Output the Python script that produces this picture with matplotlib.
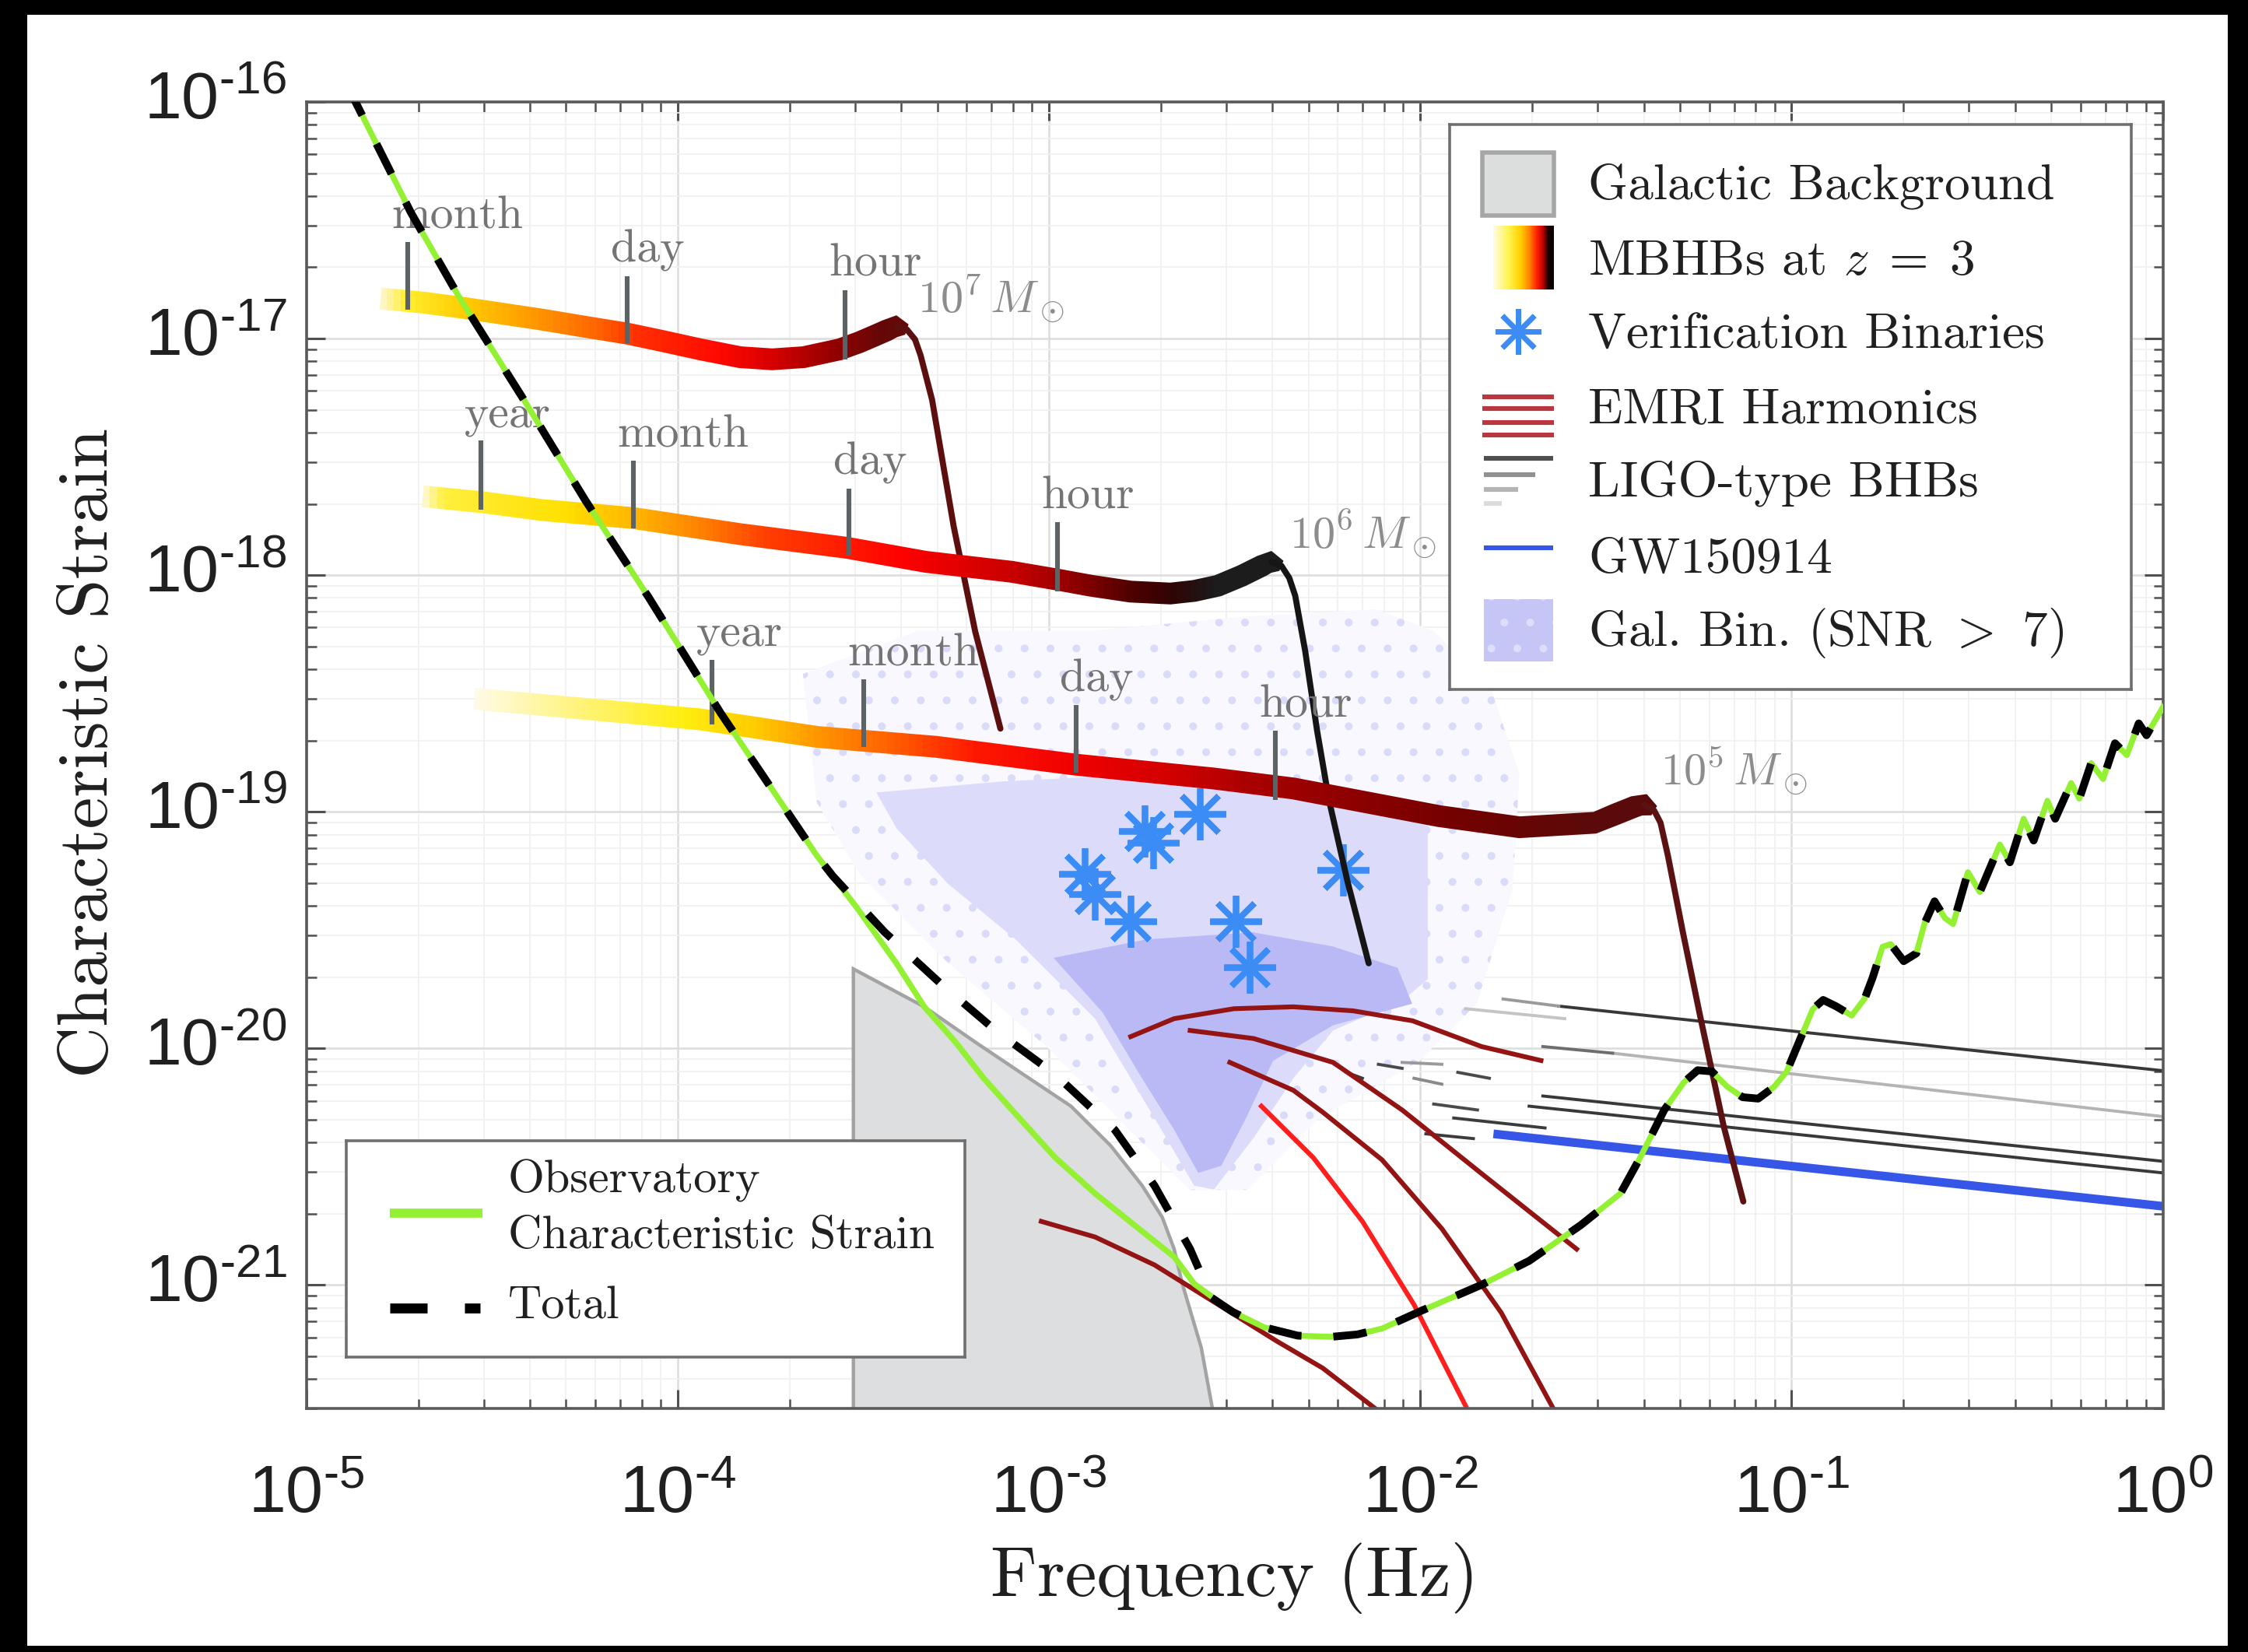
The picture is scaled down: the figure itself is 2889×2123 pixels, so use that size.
"""Characteristic strain vs frequency: observatory sensitivity with source classes."""
import numpy as np
import matplotlib

matplotlib.use("Agg")
import matplotlib.pyplot as plt
import matplotlib.transforms as mtransforms
from matplotlib.colors import LinearSegmentedColormap
from matplotlib.patches import Polygon, Rectangle
from matplotlib.ticker import LogLocator, NullFormatter

# ---------------------------------------------------------------- data
# everything is log10(frequency / Hz) and log10(characteristic strain)
sens_logf = np.array([-4.89, -4.869, -4.719, -4.591, -4.409, -4.249, -4.078, -3.885, -3.625, -3.518,
                      -3.411, -3.336, -3.251, -3.176, -3.090, -2.983, -2.876, -2.770, -2.663, -2.609,
                      -2.505, -2.42, -2.33, -2.24, -2.17, -2.103, -1.996, -1.835, -1.707, -1.568,
                      -1.461, -1.408, -1.343, -1.290, -1.253, -1.215, -1.173, -1.132, -1.090, -1.047,
                      -1.013, -0.978, -0.943, -0.915, -0.880, -0.838, -0.803, -0.782, -0.755, -0.733,
                      -0.698, -0.664, -0.642, -0.615, -0.587, -0.565, -0.525, -0.493, -0.439, -0.412,
                      -0.375, -0.348, -0.311, -0.290, -0.247, -0.225, -0.193, -0.161, -0.129, -0.097,
                      -0.065, -0.044, 0.0])
sens_logh = np.array([-15.93, -15.997, -16.467, -16.819, -17.273, -17.684, -18.095, -18.582, -19.187, -19.405,
                      -19.641, -19.825, -19.976, -20.127, -20.278, -20.463, -20.614, -20.748, -20.882, -20.996,
                      -21.115, -21.18, -21.215, -21.22, -21.21, -21.185, -21.109, -21.0, -20.899, -20.748,
                      -20.614, -20.463, -20.261, -20.144, -20.093, -20.098, -20.163, -20.207, -20.213, -20.163,
                      -20.098, -19.966, -19.835, -19.796, -19.823, -19.862, -19.790, -19.703, -19.571, -19.560,
                      -19.632, -19.599, -19.473, -19.379, -19.450, -19.475, -19.256, -19.340, -19.139, -19.214,
                      -19.030, -19.122, -18.954, -19.030, -18.879, -18.945, -18.795, -18.862, -18.711, -18.761,
                      -18.627, -18.677, -18.559])

# where the total lifts above the instrument curve (galactic confusion)
tot_mid_logf = np.array([-3.582, -3.443, -3.294, -3.144, -2.984, -2.823, -2.716, -2.620, -2.563])
tot_mid_logh = np.array([-19.273, -19.509, -19.724, -19.925, -20.110, -20.345, -20.581, -20.849, -21.054])

galbg_logf = np.array([-3.527, -3.527, -3.336, -3.197, -3.069, -2.941, -2.834, -2.749, -2.695, -2.663,
                       -2.641, -2.590, -2.551])
galbg_logh = np.array([-21.6, -19.665, -19.825, -19.976, -20.111, -20.245, -20.412, -20.581, -20.715, -20.849,
                       -20.996, -21.266, -21.6])

# massive black hole binaries at z = 3 (10^7, 10^6, 10^5 solar masses)
trk1_logf = np.array([-4.800, -4.687, -4.580, -4.473, -4.366, -4.259, -4.137, -4.046, -3.939, -3.832,
                      -3.746, -3.661, -3.564, -3.511, -3.468, -3.436, -3.410, -3.383, -3.361, -3.346,
                      -3.315, -3.257, -3.199, -3.131])
trk1_logh = np.array([-16.831, -16.848, -16.870, -16.895, -16.920, -16.948, -16.979, -17.009, -17.046, -17.079,
                      -17.088, -17.079, -17.046, -17.016, -16.987, -16.965, -16.948, -16.962, -17.004, -17.071,
                      -17.259, -17.793, -18.238, -18.649])
trk2_logf = np.array([-4.687, -4.527, -4.366, -4.120, -3.832, -3.543, -3.332, -3.101, -2.978, -2.887,
                      -2.780, -2.673, -2.609, -2.545, -2.481, -2.427, -2.401, -2.374, -2.353, -2.337,
                      -2.310, -2.278, -2.246, -2.196, -2.139])
trk2_logh = np.array([-17.667, -17.692, -17.725, -17.759, -17.827, -17.885, -17.944, -17.986, -18.019, -18.045,
                      -18.070, -18.078, -18.067, -18.045, -18.003, -17.961, -17.944, -17.961, -18.012, -18.087,
                      -18.322, -18.658, -18.951, -19.296, -19.641])
trk3_logf = np.array([-4.548, -3.939, -3.625, -3.304, -2.930, -2.556, -2.342, -1.949, -1.733, -1.530,
                      -1.477, -1.423, -1.396, -1.370, -1.353, -1.333, -1.293, -1.247, -1.183, -1.130])
trk3_logh = np.array([-18.523, -18.610, -18.684, -18.726, -18.801, -18.860, -18.902, -19.019, -19.066, -19.047,
                      -19.013, -18.979, -18.971, -18.996, -19.047, -19.187, -19.508, -19.859, -20.329, -20.648])
trk_peak = [16, 16, 12]

# time-to-merger markers on each track
t1_tick_logf = np.array([-4.728, -4.137, -3.549])
t1_tick_lo = np.array([-16.878, -17.021, -17.088])
t1_tick_hi = np.array([-16.593, -16.736, -16.795])
t1_tick_lab = ["month", "day", "hour"]
t2_tick_logf = np.array([-4.530, -4.119, -3.538, -2.978])
t2_tick_lo = np.array([-17.725, -17.801, -17.919, -18.070])
t2_tick_hi = np.array([-17.432, -17.516, -17.634, -17.776])
t2_tick_lab = ["year", "month", "day", "hour"]
t3_tick_logf = np.array([-3.907, -3.499, -2.928, -2.390])
t3_tick_lo = np.array([-18.630, -18.726, -18.835, -18.952])
t3_tick_hi = np.array([-18.357, -18.441, -18.550, -18.659])
t3_tick_lab = ["year", "month", "day", "hour"]

mass_lab = [r"$10^7\,M_\odot$", r"$10^6\,M_\odot$", r"$10^5\,M_\odot$"]
mass_logf = np.array([-3.354, -2.353, -1.353])
mass_logh = np.array([-16.890, -17.885, -18.887])

# verification binaries
vb_logf = np.array([-2.593, -2.742, -2.719, -2.903, -2.876, -2.780, -2.497, -2.459, -2.208])
vb_logh = np.array([-19.011, -19.083, -19.133, -19.263, -19.347, -19.464, -19.464, -19.657, -19.246])

# resolved galactic binaries (SNR > 7): outline of sparse, medium and dense parts of the cloud
cloud_outer_logf = np.array([-3.663, -3.354, -2.892, -2.467, -2.119, -1.965, -1.810, -1.733, -1.752, -1.848,
                             -2.003, -2.273, -2.467, -2.621, -2.776, -3.007, -3.278, -3.509, -3.625])
cloud_outer_logh = np.array([-18.418, -18.236, -18.236, -18.175, -18.145, -18.236, -18.478, -18.842, -19.327,
                             -19.812, -20.054, -20.296, -20.599, -20.599, -20.357, -19.993, -19.630, -19.266,
                             -18.963])
cloud_mid_logf = np.array([-3.465, -3.123, -2.737, -2.351, -1.980, -1.980, -2.043, -2.235, -2.342, -2.449,
                           -2.556, -2.609, -2.716, -2.876, -3.090, -3.272, -3.411])
cloud_mid_logh = np.array([-18.919, -18.872, -18.842, -18.872, -19.024, -19.708, -19.792, -19.925, -20.127,
                           -20.379, -20.597, -20.581, -20.295, -19.875, -19.540, -19.305, -19.070])
cloud_core_logf = np.array([-2.988, -2.737, -2.451, -2.235, -2.061, -2.022, -2.235, -2.397, -2.470, -2.536,
                            -2.598, -2.663, -2.752, -2.856])
cloud_core_logh = np.array([-19.618, -19.540, -19.510, -19.570, -19.660, -19.812, -19.903, -20.054, -20.297,
                            -20.497, -20.527, -20.345, -20.121, -19.848])

# EMRI harmonics
emri_a_logf = np.array([-2.780, -2.663, -2.502, -2.342, -2.181, -2.021, -1.835, -1.675])
emri_a_logh = np.array([-19.951, -19.875, -19.833, -19.825, -19.842, -19.884, -19.993, -20.052])
emri_b_logf = np.array([-2.620, -2.449, -2.235, -2.049, -1.835, -1.579])
emri_b_logh = np.array([-19.925, -19.959, -20.060, -20.261, -20.530, -20.849])
emri_c_logf = np.array([-2.513, -2.342, -2.263, -2.103, -1.942, -1.782, -1.643])
emri_c_logh = np.array([-20.060, -20.178, -20.270, -20.472, -20.763, -21.118, -21.520])
emri_d_logf = np.array([-2.428, -2.288, -2.156, -2.017, -1.878])
emri_d_logh = np.array([-20.245, -20.463, -20.732, -21.084, -21.512])
emri_e_logf = np.array([-3.021, -2.876, -2.716, -2.544, -2.389, -2.263, -2.124])
emri_e_logh = np.array([-20.732, -20.798, -20.916, -21.084, -21.236, -21.352, -21.520])

# LIGO-type stellar-mass binaries (start/end of each segment)
ligo_f0 = np.array([-1.627, -1.670, -1.707, -1.482, -1.777, -1.670, -1.878, -1.964, -1.910, -1.985,
                    -1.899, -2.113, -2.017, -2.199, -2.049])
ligo_h0 = np.array([-19.822, -20.202, -20.245, -20.021, -19.792, -19.993, -19.833, -20.236, -20.295, -20.362,
                    -20.102, -20.068, -20.127, -20.102, -20.060])
ligo_f1 = np.array([0.0, 0.0, 0.0, 0.0, -1.627, -1.482, -1.611, -1.846, -1.664, -1.857,
                    -1.814, -2.049, -1.942, -2.156, -1.942])
ligo_h1 = np.array([-20.095, -20.478, -20.527, -20.289, -19.822, -20.021, -19.875, -20.261, -20.337, -20.382,
                    -20.127, -20.085, -20.152, -20.127, -20.068])
gw150914_logf = np.array([-1.803, 0.0])
gw150914_logh = np.array([-20.362, -20.668])

x_tick_exp = [-5, -4, -3, -2, -1, 0]
y_tick_exp = [-16, -17, -18, -19, -20, -21]

legend_labels = ["Galactic Background", r"MBHBs at $z\;=\;3$", "Verification Binaries", "EMRI Harmonics",
                 "LIGO-type BHBs", "GW150914", r"Gal. Bin. (SNR $>$ 7)"]

# ---------------------------------------------------------------- style
DPI = 200
GREEN = "#94f032"
DARK_RED = "#941414"
BLUE_STAR = "#3c8cf5"
TXT = "#202020"
LIGO_SHADES = ["#383838", "#383838", "#383838", "#b4b4b4", "#9a9a9a", "#6e6e6e", "#c4c4c4", "#4a4a4a",
               "#3c3c3c", "#3c3c3c", "#4a4a4a", "#4a4a4a", "#8a8a8a", "#3c3c3c", "#9a9a9a"]
TRK_STOPS = [
    ([-4.80, -4.74, -4.58, -4.40, -4.21, -4.12, -3.90, -3.75, -3.60, -3.45],
     ["#fff6c0", "#ffee30", "#ffcc00", "#ff9a00", "#ff6000", "#ff3000", "#ff0a00", "#d80000", "#9a0000", "#640808"]),
    ([-4.69, -4.64, -4.31, -4.10, -3.94, -3.77, -3.40, -3.10, -2.98, -2.78, -2.67, -2.55],
     ["#fff8d0", "#fff040", "#ffe000", "#ffb000", "#ff8000", "#ff4000", "#ff0000", "#c80000", "#a00000",
      "#500000", "#300404", "#1c1c1c"]),
    ([-4.55, -4.37, -3.99, -3.80, -3.625, -3.41, -3.20, -2.93, -2.66, -2.45, -1.95, -1.53],
     ["#fffbe6", "#fff6a0", "#ffee10", "#ffcc00", "#ff9600", "#ff5a00", "#ff1800", "#f00000", "#d00000",
      "#a80000", "#780000", "#5a0a0a"]),
]
RING_COLORS = ["#5c0f0f", "#151515", "#5a1212"]

plt.rcParams.update({
    "font.family": "cmr10",
    "axes.formatter.use_mathtext": True,
    "mathtext.fontset": "cm",
    "mathtext.rm": "Liberation Sans",
    "mathtext.it": "Liberation Sans:italic",
    "mathtext.bf": "Liberation Sans:bold",
    "hatch.linewidth": 1.2,
})


def p10(a):
    return 10.0 ** np.asarray(a, dtype=float)


fig = plt.figure(figsize=(2889 / DPI, 2123 / DPI), dpi=DPI, facecolor="black")
fig.add_artist(Rectangle((0.0121, 0.0038), 0.9789, 0.9873, transform=fig.transFigure,
                         facecolor="white", edgecolor="none", zorder=-5))

ax = fig.add_axes([0.13634, 0.14739, 0.82579, 0.79091])
ax.set_xscale("log")
ax.set_yscale("log")
ax.set_xlim(1e-5, 1.0)
ax.set_ylim(10 ** -21.523, 1e-16)
ax.set_autoscale_on(False)

for axis in (ax.xaxis, ax.yaxis):
    axis.set_major_locator(LogLocator(base=10, numticks=30))
    axis.set_minor_locator(LogLocator(base=10, subs=np.arange(2, 10), numticks=200))
    axis.set_minor_formatter(NullFormatter())
ax.tick_params(which="both", direction="in", top=True, right=True, labelbottom=False,
               labelleft=False, color="#505050")
ax.tick_params(which="major", length=8.5, width=1.1)
ax.tick_params(which="minor", length=4.5, width=0.9)
for sp in ax.spines.values():
    sp.set_color("#5a5a5a")
    sp.set_linewidth(1.3)
ax.grid(True, which="major", color="#dcdcdc", lw=0.9)
ax.grid(True, which="minor", color="#f0f0f0", lw=0.6)
ax.set_axisbelow(True)

# tick labels, MATLAB style (sans serif, hyphen minus)
xtr = mtransforms.blended_transform_factory(ax.transData, ax.transAxes)
ytr = mtransforms.blended_transform_factory(ax.transAxes, ax.transData)
for e in x_tick_exp:
    ax.text(10.0 ** e, -0.0797, rf"$10^{{\text{{{e}}}}}$", transform=xtr, ha="center", va="baseline",
            fontsize=31, math_fontfamily="custom", color=TXT, clip_on=False)
for e in y_tick_exp:
    ax.text(-0.0107, 10.0 ** e, rf"$10^{{\text{{{e}}}}}$", transform=ytr, ha="right", va="center",
            fontsize=31, math_fontfamily="custom", color=TXT, clip_on=False)

fig.text(0.54924, 0.0339, "Frequency (Hz)", ha="center", va="baseline", fontsize=33, color=TXT)
fig.text(0.0478, 0.5444, "Characteristic Strain", rotation=90, rotation_mode="anchor",
         ha="center", va="baseline", fontsize=33, color=TXT)

# galactic background
ax.add_patch(Polygon(np.column_stack([p10(galbg_logf), p10(galbg_logh)]), closed=True,
                     facecolor="#dcdedf", edgecolor="#a3a3a3", lw=1.6, zorder=1))

# resolved galactic binaries cloud
ax.add_patch(Polygon(np.column_stack([p10(cloud_outer_logf), p10(cloud_outer_logh)]), closed=True,
                     facecolor="#f8f8fe", edgecolor="#dadaf9", hatch=".", lw=0, zorder=1.2))
ax.add_patch(Polygon(np.column_stack([p10(cloud_mid_logf), p10(cloud_mid_logh)]), closed=True,
                     facecolor="#dcdcfa", edgecolor="none", lw=0, zorder=1.3))
ax.add_patch(Polygon(np.column_stack([p10(cloud_core_logf), p10(cloud_core_logh)]), closed=True,
                     facecolor="#b9b9f6", edgecolor="none", lw=0, zorder=1.4))

# LIGO-type binaries and GW150914
for f0, h0, f1, h1, c in zip(ligo_f0, ligo_h0, ligo_f1, ligo_h1, LIGO_SHADES):
    ax.plot(p10([f0, f1]), p10([h0, h1]), color=c, lw=1.4, zorder=2)
ax.plot(p10(gw150914_logf), p10(gw150914_logh), color="#3556e6", lw=4.0, zorder=2.1,
        solid_capstyle="butt")

# EMRI harmonics
for fx, hx, c in [(emri_a_logf, emri_a_logh, DARK_RED), (emri_b_logf, emri_b_logh, DARK_RED),
                  (emri_c_logf, emri_c_logh, DARK_RED), (emri_d_logf, emri_d_logh, "#ff1e1e"),
                  (emri_e_logf, emri_e_logh, DARK_RED)]:
    ax.plot(p10(fx), p10(hx), color=c, lw=2.2, zorder=2.5)

# verification binaries
ax.plot(p10(vb_logf), p10(vb_logh), ls="none", marker=(8, 2, 0), ms=24, mew=2.8,
        color=BLUE_STAR, zorder=3)


# MBHB tracks: thick gradient ribbon for the inspiral, thin line for the ringdown
def ribbon(logf, logh, widths):
    pts = ax.transData.transform(np.column_stack([p10(logf), p10(logh)]))
    tan = np.gradient(pts, axis=0)
    tan = tan / np.hypot(tan[:, 0], tan[:, 1])[:, None]
    nrm = np.column_stack([-tan[:, 1], tan[:, 0]])
    half = np.asarray(widths)[:, None] / 2.0
    outline = np.vstack([pts + nrm * half, (pts - nrm * half)[::-1]])
    return ax.transData.inverted().transform(outline)


grad = np.linspace(0.0, 1.0, 2048)[None, :]
for (tf, th), peak, (sf, sc), rc in zip([(trk1_logf, trk1_logh), (trk2_logf, trk2_logh),
                                         (trk3_logf, trk3_logh)], trk_peak, TRK_STOPS, RING_COLORS):
    n = peak + 2
    widths = np.full(n, 28.0)
    widths[-1] = 14.0
    clip = Polygon(ribbon(tf[:n], th[:n], widths), closed=True, transform=ax.transData)
    pos = [0.0] + [(s + 5.0) / 5.0 for s in sf] + [1.0]
    cols = [sc[0]] + list(sc) + [sc[-1]]
    cmap = LinearSegmentedColormap.from_list("trk", list(zip(pos, cols)))
    im = ax.imshow(grad, cmap=cmap, extent=(0, 1, 0, 1), transform=ax.transAxes, aspect="auto",
                   interpolation="nearest", zorder=3.5)
    im.set_clip_path(clip)
    ax.plot(p10(tf[peak:]), p10(th[peak:]), color=rc, lw=2.8, solid_capstyle="round",
            solid_joinstyle="round", zorder=3.5)

for tf, lo, hi, labs in [(t1_tick_logf, t1_tick_lo, t1_tick_hi, t1_tick_lab),
                         (t2_tick_logf, t2_tick_lo, t2_tick_hi, t2_tick_lab),
                         (t3_tick_logf, t3_tick_lo, t3_tick_hi, t3_tick_lab)]:
    ax.vlines(p10(tf), p10(lo), p10(hi), color="#5d6365", lw=2.2, zorder=3.8)
    for f, h, lab in zip(tf, hi, labs):
        ax.annotate(lab, (10.0 ** f, 10.0 ** h), xytext=(-7.5, 6.4), textcoords="offset points",
                    ha="left", va="baseline", fontsize=21.5, color="#747474", zorder=3.6)

for lab, f, h in zip(mass_lab, mass_logf, mass_logh):
    ax.text(10.0 ** f, 10.0 ** h, lab, ha="left", va="baseline", fontsize=21, color="#8c8c8c",
            zorder=3.6)

# instrument curve and total
ax.plot(p10(sens_logf), p10(sens_logh), color=GREEN, lw=2.7, zorder=4, solid_joinstyle="round")
tot_logf = np.concatenate([sens_logf[sens_logf < -3.6], tot_mid_logf, sens_logf[sens_logf > -2.55]])
tot_logh = np.concatenate([sens_logh[sens_logf < -3.6], tot_mid_logh, sens_logh[sens_logf > -2.55]])
ax.plot(p10(tot_logf), p10(tot_logh), color="black", lw=3.6, dashes=(4.3, 4.1), zorder=4.1,
        dash_joinstyle="round")


# ---------------------------------------------------------------- legends
def legend_axes(rect):
    lg = fig.add_axes(rect, zorder=10)
    lg.set_xlim(0, 1)
    lg.set_ylim(0, 1)
    lg.set_xticks([])
    lg.set_yticks([])
    lg.set_facecolor("white")
    for sp in lg.spines.values():
        sp.set_edgecolor("#6f6f6f")
        sp.set_linewidth(1.3)
    return lg


lg1 = legend_axes([0.64496, 0.58281, 0.30308, 0.34169])
base_y = [0.8689, 0.7338, 0.6033, 0.4727, 0.3424, 0.2073, 0.0767]
for lab, y in zip(legend_labels, base_y):
    lg1.text(0.2031, y, lab, ha="left", va="baseline", fontsize=23.5, color=TXT)
lg1.add_patch(Rectangle((0.0473, 0.8387), 0.1055, 0.1118, facecolor="#dcdede", edgecolor="#a6a6a6", lw=2))
leg_cmap = LinearSegmentedColormap.from_list(
    "leg", [(0.0, "#fffbe6"), (0.25, "#fff550"), (0.45, "#ffd000"), (0.6, "#ff8000"),
            (0.72, "#ff2000"), (0.82, "#c00000"), (0.9, "#200000"), (1.0, "#000000")])
lg1.imshow(grad, cmap=leg_cmap, extent=(0.0638, 0.1528, 0.7084, 0.8202), aspect="auto",
           interpolation="nearest")
lg1.set_xlim(0, 1)
lg1.set_ylim(0, 1)
lg1.plot([0.100], [0.6337], ls="none", marker=(8, 2, 0), ms=21, mew=2.4, color=BLUE_STAR)
for y in [0.5177, 0.4966, 0.4720, 0.4509]:
    lg1.plot([0.0473, 0.1528], [y, y], color="#b9383f", lw=2.2, solid_capstyle="butt")
for x1, y, c in [(0.1521, 0.4084, "#505050"), (0.1258, 0.3805, "#909090"),
                 (0.0997, 0.3543, "#b4b4b4"), (0.0764, 0.3289, "#dcdcdc")]:
    lg1.plot([0.0503, x1], [y, y], color=c, lw=2.2, solid_capstyle="butt")
lg1.plot([0.0503, 0.1521], [0.2502, 0.2502], color="#3556e6", lw=2.2, solid_capstyle="butt")
lg1.add_patch(Rectangle((0.0503, 0.0498), 0.1018, 0.109, facecolor="#c6c6f6", edgecolor="#dedefa",
                        hatch=".", lw=0))

lg2 = legend_axes([0.15410, 0.17852, 0.27515, 0.13100])
lg2.plot([0.0707, 0.2195], [0.664, 0.664], color=GREEN, lw=4.2, solid_capstyle="butt")
lg2.text(0.2612, 0.7614, "Observatory", ha="left", va="baseline", fontsize=21.7, color=TXT)
lg2.text(0.2612, 0.5043, "Characteristic Strain", ha="left", va="baseline", fontsize=21.7, color=TXT)
lg2.plot([0.0707, 0.1310], [0.2253, 0.2253], color="black", lw=4.6, solid_capstyle="butt")
lg2.plot([0.1908, 0.2163], [0.2253, 0.2253], color="black", lw=4.6, solid_capstyle="butt")
lg2.text(0.2612, 0.1796, "Total", ha="left", va="baseline", fontsize=21.7, color=TXT)

fig.savefig("out.png", dpi=DPI, facecolor=fig.get_facecolor())
